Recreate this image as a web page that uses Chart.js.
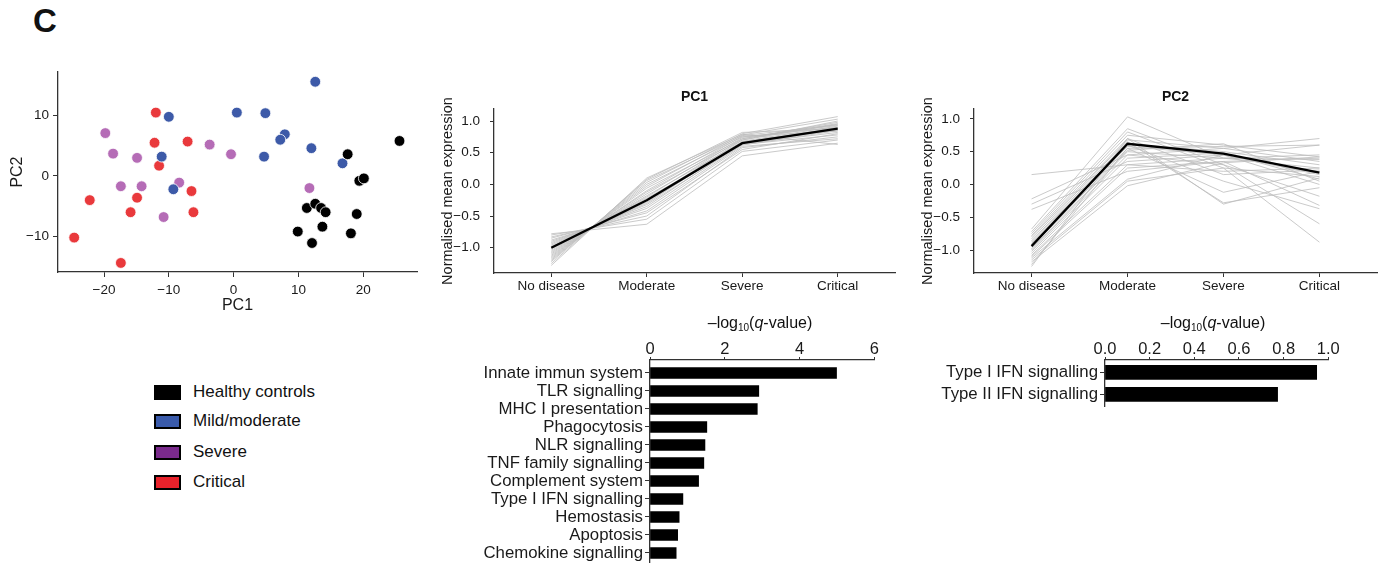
<!DOCTYPE html>
<html>
<head>
<meta charset="utf-8">
<script src="https://cdn.jsdelivr.net/npm/chart.js@4/dist/chart.umd.min.js"></script>
<style>
  body{margin:0;background:#fff;width:1379px;height:563px;position:relative;overflow:hidden;
       font-family:"Liberation Sans",Arial,sans-serif;color:#111}
  canvas{position:absolute}
  .panel{position:absolute;left:33px;top:4px;font-size:33px;line-height:33px;font-weight:bold}
  .lg{position:absolute;left:154px;display:flex;align-items:center;font-size:17px}
  .lg span.sw{display:inline-block;width:27px;height:15px;box-sizing:border-box;border:2px solid #000;margin-right:12px}
  .qt{position:absolute;transform:translate(-50%,-50%);font-size:16px;white-space:nowrap}
  .qt sub{font-size:10px;vertical-align:-3px}
</style>
</head>
<body>
<div class="panel">C</div>
<div id="legend"></div>
<canvas id="scatter" width="425" height="260" style="left:0;top:60px"></canvas>
<canvas id="pc1" width="470" height="218" style="left:430px;top:80px"></canvas>
<canvas id="pc2" width="469" height="218" style="left:910px;top:80px"></canvas>
<canvas id="bar1" width="430" height="233" style="left:460px;top:330px"></canvas>
<canvas id="bar2" width="459" height="80" style="left:920px;top:330px"></canvas>
<div class="qt" style="left:760px;top:323px">–log<sub>10</sub>(<i>q</i>-value)</div>
<div class="qt" style="left:1213px;top:323px">–log<sub>10</sub>(<i>q</i>-value)</div>
<script>
// ---- data ----
const groupNames = ['Healthy controls', 'Mild/moderate', 'Severe', 'Critical'];
const pointColors = ['#000000', '#3d5aa8', '#b56cb6', '#e9393c'];
const legendColors = ['#000000', '#3a5bab', '#7a2a8c', '#e8222b'];

const healthyPC1 = [25.6, 17.6, 19.4, 20.1, 11.3, 12.6, 13.5, 14.2, 19.0, 13.7, 9.9, 18.1, 12.1];
const healthyPC2 = [5.8, 3.6, -0.8, -0.4, -5.3, -4.6, -5.3, -6.0, -6.3, -8.4, -9.2, -9.5, -11.1];
const mildPC1 = [12.6, -10.0, 0.5, 4.9, 7.9, 7.2, 12.0, 4.7, -11.1, 16.8, -9.3];
const mildPC2 = [15.6, 9.8, 10.5, 10.4, 6.9, 6.0, 4.6, 3.2, 3.2, 2.1, -2.2];
const severePC1 = [-19.8, -18.6, -14.9, -3.7, -0.4, -17.4, -14.2, -8.4, 11.7, -10.8];
const severePC2 = [7.1, 3.7, 3.0, 5.2, 3.6, -1.7, -1.7, -1.1, -2.0, -6.8];
const criticalPC1 = [-12.0, -12.2, -7.1, -11.5, -6.5, -14.9, -22.2, -15.9, -6.2, -24.6, -17.4];
const criticalPC2 = [10.5, 5.5, 5.7, 1.7, -2.5, -3.6, -4.0, -6.0, -6.0, -10.2, -14.4];

const pcTicksX = [-20, -10, 0, 10, 20];
const pcTicksY = [-10, 0, 10];

const stages = ['No disease', 'Moderate', 'Severe', 'Critical'];
const exprTicks = [-1.0, -0.5, 0.0, 0.5, 1.0];

const pc1Mean = [-1.0, -0.25, 0.65, 0.88];
const pc1Lines = [
  [-0.78, -0.63, 0.45, 0.65], [-0.80, -0.55, 0.52, 0.70], [-0.83, -0.50, 0.58, 0.75],
  [-0.85, -0.45, 0.55, 0.80], [-0.88, -0.42, 0.60, 0.72], [-0.90, -0.38, 0.62, 0.85],
  [-0.92, -0.35, 0.66, 0.90], [-0.94, -0.32, 0.63, 0.78], [-0.96, -0.30, 0.68, 0.92],
  [-0.98, -0.28, 0.65, 0.86], [-1.00, -0.25, 0.70, 0.95], [-1.02, -0.22, 0.64, 0.82],
  [-1.04, -0.20, 0.72, 0.98], [-1.06, -0.18, 0.67, 0.88], [-1.08, -0.15, 0.74, 0.93],
  [-1.10, -0.12, 0.70, 1.00], [-1.12, -0.10, 0.76, 0.84], [-1.14, -0.06, 0.72, 0.96],
  [-1.16, -0.03, 0.78, 1.03], [-1.18, 0.00, 0.75, 0.90], [-1.20, 0.03, 0.80, 1.07],
  [-1.22, 0.06, 0.77, 0.94], [-1.25, 0.08, 0.82, 0.88], [-1.28, 0.10, 0.79, 0.63]
];

const pc2Mean = [-0.94, 0.62, 0.47, 0.18];
const pc2Lines = [
  [0.15, 0.30, 0.40, 0.45], [-0.22, 0.45, 0.55, 0.70], [-0.30, 0.35, 0.45, 0.60],
  [-0.38, 0.20, 0.35, 0.40], [-0.68, 1.03, 0.40, 0.25], [-0.72, 0.85, 0.30, -0.60],
  [-0.75, 0.80, 0.25, -0.88], [-0.78, 0.75, 0.60, 0.42], [-0.80, 0.70, -0.30, 0.10],
  [-0.83, 0.68, 0.55, 0.35], [-0.86, 0.65, -0.28, -0.05], [-0.88, 0.62, 0.50, 0.30],
  [-0.90, 0.60, 0.05, -0.37], [-0.93, 0.58, 0.45, 0.15], [-0.95, 0.55, -0.12, 0.20],
  [-0.98, 0.52, 0.62, 0.05], [-1.00, 0.50, 0.40, 0.38], [-1.02, 0.45, 0.30, -0.18],
  [-1.05, 0.40, 0.48, 0.08], [-1.08, 0.30, 0.20, 0.25], [-1.10, 0.25, 0.35, -0.32],
  [-1.12, 0.08, 0.45, 0.00], [-1.15, 0.05, 0.25, 0.12], [-1.18, -0.02, 0.33, 0.42],
  [-1.22, 0.55, 0.58, 0.60], [-1.25, 0.70, 0.15, 0.22]
];

const pathways1 = ['Innate immun system', 'TLR signalling', 'MHC I presentation', 'Phagocytosis',
  'NLR signalling', 'TNF family signalling', 'Complement system', 'Type I IFN signalling',
  'Hemostasis', 'Apoptosis', 'Chemokine signalling'];
const qvalues1 = [4.99, 2.91, 2.87, 1.52, 1.47, 1.44, 1.30, 0.88, 0.78, 0.74, 0.70];
const qTicks1 = [0, 2, 4, 6];

const pathways2 = ['Type I IFN signalling', 'Type II IFN signalling'];
const qvalues2 = [0.948, 0.773];
const qTicks2 = [0, 0.2, 0.4, 0.6, 0.8, 1.0];

// ---- helpers ----
Chart.defaults.font.family = '"Liberation Sans", Arial, sans-serif';
Chart.defaults.color = '#1a1a1a';
const AX = '#333';
const fixW = w => s => { s.width = w; };
const fixH = h => s => { s.height = h; };
// fixed width and no end-label padding, so the plot keeps its full height
const fixWNoPad = w => s => { s.width = w; s.paddingTop = 0; s.paddingBottom = 0; };
const setTicks = vals => s => { s.ticks = vals.map(v => ({value: v})); };
const minus = v => String(v).replace('-', '\u2212');
const noPlugins = {legend: {display: false}, tooltip: {enabled: false}};

// legend (html)
const lg = document.getElementById('legend');
groupNames.forEach((name, i) => {
  const d = document.createElement('div');
  d.className = 'lg';
  d.style.top = [382, 411, 442, 472][i] + 'px';
  d.innerHTML = `<span class="sw" style="background:${legendColors[i]}"></span>${name}`;
  lg.appendChild(d);
});

// ---- scatter PC1/PC2 ----
const groupsPC1 = [healthyPC1, mildPC1, severePC1, criticalPC1];
const groupsPC2 = [healthyPC2, mildPC2, severePC2, criticalPC2];
new Chart(document.getElementById('scatter'), {
  type: 'scatter',
  data: {
    datasets: groupNames.map((name, g) => ({
      label: name,
      data: groupsPC1[g].map((x, i) => ({x, y: groupsPC2[g][i]})),
      backgroundColor: pointColors[g],
      borderColor: '#ffffff',
      borderWidth: 0.8,
      pointRadius: 5.4
    }))
  },
  options: {
    responsive: false, animation: false,
    layout: {padding: {top: 12, right: 8, left: 0, bottom: 0}},
    plugins: noPlugins,
    scales: {
      x: {
        type: 'linear', min: -27.1, max: 28.3,
        afterBuildTicks: setTicks(pcTicksX), afterFit: fixH(48),
        grid: {drawOnChartArea: false, color: AX, tickLength: 5},
        border: {color: AX, width: 1.3},
        ticks: {font: {size: 13.5}, padding: 5, maxRotation: 0, callback: v => minus(v)},
        title: {display: true, text: 'PC1', font: {size: 16}, padding: {top: 0, bottom: 5}}
      },
      y: {
        type: 'linear', min: -15.9, max: 17.2,
        afterBuildTicks: setTicks(pcTicksY), afterFit: fixW(58),
        grid: {drawOnChartArea: false, color: AX, tickLength: 5},
        border: {color: AX, width: 1.3},
        ticks: {font: {size: 13.5}, padding: 4, callback: v => minus(v)},
        title: {display: true, text: 'PC2', font: {size: 16}, padding: {top: 8, bottom: 0}}
      }
    }
  }
});

// ---- expression line charts ----
function exprChart(id, title, lines, mean, yMin, yMax, padRight) {
  const toPts = arr => arr.map((v, i) => ({x: i, y: v}));
  const datasets = [{data: toPts(mean), borderColor: '#000', borderWidth: 2.3, pointRadius: 0}]
    .concat(lines.map(l => ({data: toPts(l), borderColor: '#bdbdbd', borderWidth: 0.8, pointRadius: 0})));
  new Chart(document.getElementById(id), {
    type: 'line',
    data: {datasets},
    options: {
      responsive: false, animation: false,
      layout: {padding: {top: 0, right: padRight, left: 0, bottom: 0}},
      plugins: {
        legend: {display: false}, tooltip: {enabled: false},
        title: {display: true, text: title, fullSize: false, color: '#111',
                font: {size: 14, weight: 'bold'}, padding: {top: 8.6, bottom: 3.6}}
      },
      scales: {
        x: {
          type: 'linear', min: -0.6, max: 3.6,
          afterBuildTicks: setTicks(stages.map((s, i) => i)), afterFit: fixH(25),
          grid: {drawOnChartArea: false, color: AX, tickLength: 4},
          border: {color: AX, width: 1.3},
          ticks: {font: {size: 13.5}, padding: 1, maxRotation: 0, callback: v => stages[v]}
        },
        y: {
          type: 'linear', min: yMin, max: yMax,
          afterBuildTicks: setTicks(exprTicks), afterFit: fixW(64),
          grid: {drawOnChartArea: false, color: AX, tickLength: 4},
          border: {color: AX, width: 1.3},
          ticks: {font: {size: 13.5}, padding: 10, callback: v => minus(v.toFixed(1))},
          title: {display: true, text: 'Normalised mean expression', font: {size: 14.5},
                  padding: {top: 9.3, bottom: 0}}
        }
      }
    }
  });
}
exprChart('pc1', 'PC1', pc1Lines, pc1Mean, -1.40, 1.19, 5);
exprChart('pc2', 'PC2', pc2Lines, pc2Mean, -1.35, 1.15, 2);

// ---- enrichment bar charts ----
function qBar(id, names, values, ticks, xMax, yMin, yMax, thick, yWidth, pad, fmt) {
  new Chart(document.getElementById(id), {
    type: 'bar',
    data: {datasets: [{data: values.map((v, i) => ({x: v, y: i})), backgroundColor: '#000', barThickness: thick}]},
    options: {
      indexAxis: 'y', responsive: false, animation: false,
      layout: {padding: pad},
      plugins: noPlugins,
      scales: {
        x: {
          type: 'linear', position: 'top', min: 0, max: xMax,
          afterBuildTicks: setTicks(ticks), afterFit: fixH(22),
          grid: {drawOnChartArea: false, color: AX, tickLength: 3},
          border: {color: AX, width: 1.3},
          ticks: {font: {size: 16.5}, padding: -2, maxRotation: 0, callback: fmt}
        },
        y: {
          type: 'linear', reverse: true, min: yMin, max: yMax, offset: false,
          afterBuildTicks: setTicks(names.map((n, i) => i)), afterFit: fixWNoPad(yWidth),
          grid: {drawOnChartArea: false, offset: false, color: AX, tickLength: 5},
          border: {color: AX, width: 1.3},
          ticks: {font: {size: 16.8}, padding: 2, autoSkip: false, callback: v => names[v]}
        }
      }
    }
  });
}
qBar('bar1', pathways1, qvalues1, qTicks1, 6, -0.72, 10.5, 11, 190,
     {top: 8, right: 15.7, bottom: 1, left: 0}, v => String(v));
qBar('bar2', pathways2, qvalues2, qTicks2, 1, -0.56, 1.56, 14, 185,
     {top: 8, right: 50.7, bottom: 3.3, left: 0}, v => v.toFixed(1));
</script>
</body>
</html>
